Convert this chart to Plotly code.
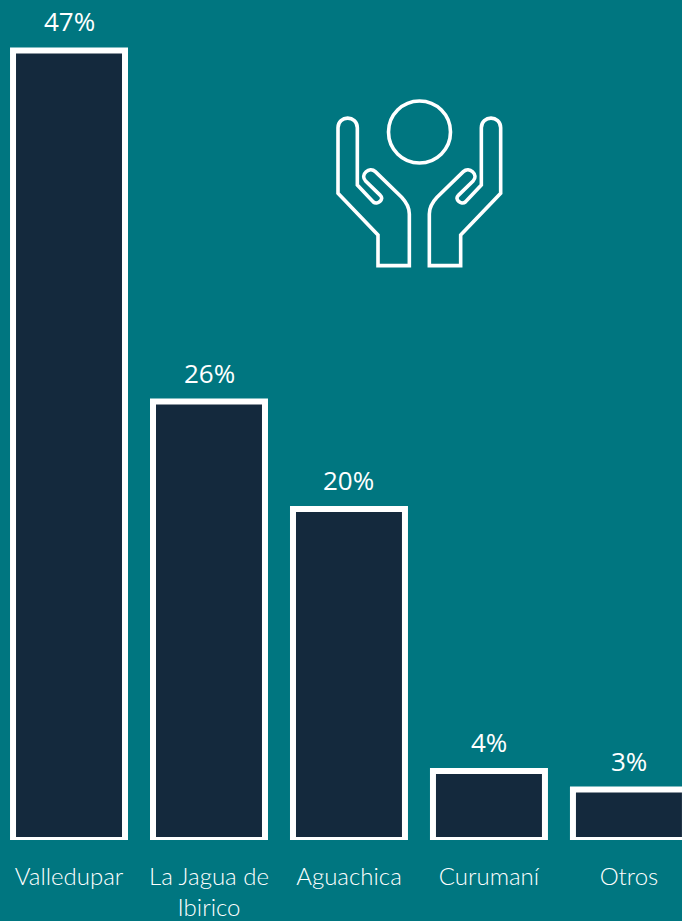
import plotly.graph_objects as go

categories = ["Valledupar", "La Jagua de<br>Ibirico", "Aguachica", "Curumaní", "Otros"]
values = [47, 26.1, 19.7, 4.1, 3]
labels = ["47%", "26%", "20%", "4%", "3%"]

BG = "#007680"
BAR = "#14293D"
W, H = 682, 921
BASE = 840


def px(x, y):
    return f"{x / W:.5f},{(BASE - y) / BASE:.5f}"


def hand(m):
    def p(x, y):
        xx = 298 + m * (x - 298)
        return px(320 + xx / 3, 90 + y / 3)
    return (
        f"M{p(174,527)} L{p(174,435)} L{p(54,310)} L{p(54,113)} "
        f"C{p(54,75)} {p(112,75)} {p(112,113)} L{p(112,285)} L{p(160,336)} "
        f"C{p(172,346)} {p(194,328)} {p(181,316)} L{p(136,272)} "
        f"C{p(120,254)} {p(148,228)} {p(166,245)} L{p(245,322)} "
        f"C{p(260,338)} {p(268,352)} {p(268,372)} L{p(268,527)} Z"
    )


fig = go.Figure(
    go.Bar(
        x=categories,
        y=values,
        cliponaxis=False,
        width=0.8,
        marker=dict(color=BAR, line=dict(color="white", width=6)),
        hoverinfo="skip",
    )
)
for c, v, t in zip(categories, values, labels):
    fig.add_annotation(
        x=c, y=v, text=t, showarrow=False, yanchor="middle", yshift=29,
        font=dict(family="Open Sans, sans-serif", size=26, color="white"),
    )
icon = dict(color="white", width=3.6)
shapes = [
    dict(type="path", xref="paper", yref="paper", path=hand(1), line=icon),
    dict(type="path", xref="paper", yref="paper", path=hand(-1), line=icon),
    dict(
        type="circle", xref="paper", yref="paper",
        x0=388.5 / W, x1=450.5 / W,
        y0=(BASE - 163) / BASE, y1=(BASE - 101) / BASE,
        line=icon,
    ),
]
fig.update_layout(
    width=W,
    height=H,
    paper_bgcolor=BG,
    plot_bgcolor=BG,
    showlegend=False,
    margin=dict(l=0, r=0, t=0, b=H - BASE, pad=0),
    shapes=shapes,
    xaxis=dict(
        range=[-0.493, 4.379],
        automargin=False,
        showgrid=False, zeroline=False, showline=False, ticks="", ticklabelstandoff=20,
        tickangle=0,
        tickfont=dict(family="Lato, sans-serif", size=24, color="white", weight=300),
    ),
    yaxis=dict(range=[0, 50], visible=False, automargin=False),
)
fig.write_html(
    "out.html",
    config={"displayModeBar": False},
    post_script="document.body.style.margin='0';document.body.style.overflow='hidden';document.body.style.background='%s';" % BG,
)
